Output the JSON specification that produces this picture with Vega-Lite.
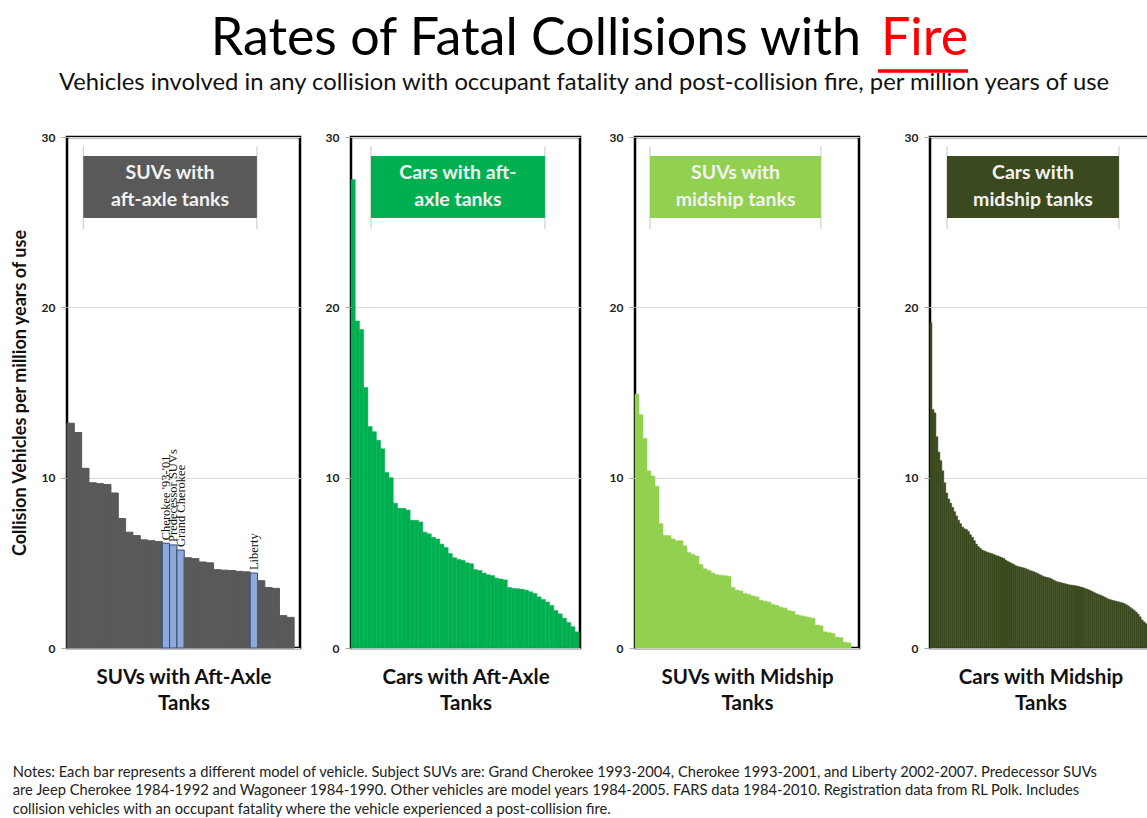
{
  "$schema": "https://vega.github.io/schema/vega-lite/v6.json",
  "padding": {"left": 9, "top": 0, "right": 0, "bottom": 0},
  "background": "white",
  "config": {
    "font": "Lato",
    "view": {"stroke": "#000", "strokeWidth": 2.5},
    "axisY": {"grid": true, "gridColor": "#d9d9d9", "gridWidth": 1.2, "domain": false, "tickColor": "#a6a6a6", "tickSize": 6, "labelFont": "Lato", "labelFontWeight": "bold", "labelFontSize": 12, "labelColor": "#222", "labelPadding": 6, "titleFont": "Lato", "titleFontSize": 18, "titleFontWeight": "bold", "titleColor": "#111", "titlePadding": 8},
    "axisX": {"labels": false, "ticks": false, "domain": false, "grid": false, "titleFont": "Lato", "titleFontSize": 20.5, "titleFontWeight": "bold", "titleColor": "#111", "titlePadding": 19, "titleLineHeight": 26, "minExtent": 0, "maxExtent": 0}
  },
  "datasets": {
    "suvAft": [
      {"rank": 1, "rate": 13.2, "kind": "other"}, {"rank": 2, "rate": 12.65, "kind": "other"}, {"rank": 3, "rate": 10.55, "kind": "other"}, {"rank": 4, "rate": 9.7, "kind": "other"}, {"rank": 5, "rate": 9.65, "kind": "other"}, {"rank": 6, "rate": 9.6, "kind": "other"}, {"rank": 7, "rate": 9.1, "kind": "other"}, {"rank": 8, "rate": 7.6, "kind": "other"}, {"rank": 9, "rate": 6.8, "kind": "other"}, {"rank": 10, "rate": 6.6, "kind": "other"}, {"rank": 11, "rate": 6.35, "kind": "other"}, {"rank": 12, "rate": 6.3, "kind": "other"}, {"rank": 13, "rate": 6.25, "kind": "other"},
      {"rank": 14, "rate": 6.15, "kind": "subject", "label": "Cherokee '93-'01"}, {"rank": 15, "rate": 6.05, "kind": "subject", "label": "Predecessor SUVs"}, {"rank": 16, "rate": 5.75, "kind": "subject", "label": "Grand Cherokee"},
      {"rank": 17, "rate": 5.3, "kind": "other"}, {"rank": 18, "rate": 5.25, "kind": "other"}, {"rank": 19, "rate": 5.05, "kind": "other"}, {"rank": 20, "rate": 5.0, "kind": "other"}, {"rank": 21, "rate": 4.6, "kind": "other"}, {"rank": 22, "rate": 4.57, "kind": "other"}, {"rank": 23, "rate": 4.55, "kind": "other"}, {"rank": 24, "rate": 4.5, "kind": "other"}, {"rank": 25, "rate": 4.47, "kind": "other"},
      {"rank": 26, "rate": 4.4, "kind": "subject", "label": "Liberty"},
      {"rank": 27, "rate": 3.95, "kind": "other"}, {"rank": 28, "rate": 3.55, "kind": "other"}, {"rank": 29, "rate": 3.5, "kind": "other"}, {"rank": 30, "rate": 1.9, "kind": "other"}, {"rank": 31, "rate": 1.8, "kind": "other"}
    ],
    "carAft": [
      {"rank": 1, "rate": 27.5}, {"rank": 2, "rate": 19.2}, {"rank": 3, "rate": 18.7}, {"rank": 4, "rate": 15.3}, {"rank": 5, "rate": 13.0}, {"rank": 6, "rate": 12.7}, {"rank": 7, "rate": 12.2}, {"rank": 8, "rate": 11.7}, {"rank": 9, "rate": 10.3}, {"rank": 10, "rate": 10.0},
      {"rank": 11, "rate": 8.5}, {"rank": 12, "rate": 8.2}, {"rank": 13, "rate": 8.2}, {"rank": 14, "rate": 8.1}, {"rank": 15, "rate": 7.5}, {"rank": 16, "rate": 7.5}, {"rank": 17, "rate": 7.4}, {"rank": 18, "rate": 6.8}, {"rank": 19, "rate": 6.7}, {"rank": 20, "rate": 6.5},
      {"rank": 21, "rate": 6.4}, {"rank": 22, "rate": 6.1}, {"rank": 23, "rate": 5.9}, {"rank": 24, "rate": 5.55}, {"rank": 25, "rate": 5.3}, {"rank": 26, "rate": 5.2}, {"rank": 27, "rate": 5.15}, {"rank": 28, "rate": 5.0}, {"rank": 29, "rate": 4.95}, {"rank": 30, "rate": 4.6},
      {"rank": 31, "rate": 4.55}, {"rank": 32, "rate": 4.4}, {"rank": 33, "rate": 4.3}, {"rank": 34, "rate": 4.25}, {"rank": 35, "rate": 4.1}, {"rank": 36, "rate": 4.05}, {"rank": 37, "rate": 4.0}, {"rank": 38, "rate": 3.55}, {"rank": 39, "rate": 3.5}, {"rank": 40, "rate": 3.48},
      {"rank": 41, "rate": 3.45}, {"rank": 42, "rate": 3.4}, {"rank": 43, "rate": 3.3}, {"rank": 44, "rate": 3.2}, {"rank": 45, "rate": 3.0}, {"rank": 46, "rate": 2.85}, {"rank": 47, "rate": 2.7}, {"rank": 48, "rate": 2.5}, {"rank": 49, "rate": 2.2}, {"rank": 50, "rate": 2.0},
      {"rank": 51, "rate": 1.75}, {"rank": 52, "rate": 1.5}, {"rank": 53, "rate": 1.25}, {"rank": 54, "rate": 0.95}
    ],
    "suvMid": [
      {"rank": 1, "rate": 14.9}, {"rank": 2, "rate": 13.7}, {"rank": 3, "rate": 12.3}, {"rank": 4, "rate": 10.4}, {"rank": 5, "rate": 10.1}, {"rank": 6, "rate": 9.5}, {"rank": 7, "rate": 7.3}, {"rank": 8, "rate": 6.6}, {"rank": 9, "rate": 6.6}, {"rank": 10, "rate": 6.4},
      {"rank": 11, "rate": 6.3}, {"rank": 12, "rate": 6.3}, {"rank": 13, "rate": 6.0}, {"rank": 14, "rate": 5.6}, {"rank": 15, "rate": 5.5}, {"rank": 16, "rate": 5.4}, {"rank": 17, "rate": 4.9}, {"rank": 18, "rate": 4.65}, {"rank": 19, "rate": 4.55}, {"rank": 20, "rate": 4.4},
      {"rank": 21, "rate": 4.3}, {"rank": 22, "rate": 4.27}, {"rank": 23, "rate": 4.25}, {"rank": 24, "rate": 4.2}, {"rank": 25, "rate": 3.56}, {"rank": 26, "rate": 3.4}, {"rank": 27, "rate": 3.35}, {"rank": 28, "rate": 3.2}, {"rank": 29, "rate": 3.15}, {"rank": 30, "rate": 3.06},
      {"rank": 31, "rate": 3.0}, {"rank": 32, "rate": 2.8}, {"rank": 33, "rate": 2.75}, {"rank": 34, "rate": 2.7}, {"rank": 35, "rate": 2.56}, {"rank": 36, "rate": 2.5}, {"rank": 37, "rate": 2.4}, {"rank": 38, "rate": 2.35}, {"rank": 39, "rate": 2.2}, {"rank": 40, "rate": 2.15},
      {"rank": 41, "rate": 1.95}, {"rank": 42, "rate": 1.9}, {"rank": 43, "rate": 1.85}, {"rank": 44, "rate": 1.8}, {"rank": 45, "rate": 1.75}, {"rank": 46, "rate": 1.35}, {"rank": 47, "rate": 1.3}, {"rank": 48, "rate": 0.95}, {"rank": 49, "rate": 0.9}, {"rank": 50, "rate": 0.85},
      {"rank": 51, "rate": 0.64}, {"rank": 52, "rate": 0.6}, {"rank": 53, "rate": 0.34}, {"rank": 54, "rate": 0.3}
    ],
    "carMid": [
      {"rank": 1, "rate": 19.1}, {"rank": 2, "rate": 14.0}, {"rank": 3, "rate": 13.8}, {"rank": 4, "rate": 12.4}, {"rank": 5, "rate": 11.5}, {"rank": 6, "rate": 11.0}, {"rank": 7, "rate": 10.4}, {"rank": 8, "rate": 9.7}, {"rank": 9, "rate": 9.1}, {"rank": 10, "rate": 8.75},
      {"rank": 11, "rate": 8.5}, {"rank": 12, "rate": 8.25}, {"rank": 13, "rate": 8.0}, {"rank": 14, "rate": 7.75}, {"rank": 15, "rate": 7.5}, {"rank": 16, "rate": 7.3}, {"rank": 17, "rate": 7.1}, {"rank": 18, "rate": 7.0}, {"rank": 19, "rate": 6.95}, {"rank": 20, "rate": 6.85},
      {"rank": 21, "rate": 6.65}, {"rank": 22, "rate": 6.5}, {"rank": 23, "rate": 6.3}, {"rank": 24, "rate": 6.1}, {"rank": 25, "rate": 5.95}, {"rank": 26, "rate": 5.85}, {"rank": 27, "rate": 5.75}, {"rank": 28, "rate": 5.7}, {"rank": 29, "rate": 5.65}, {"rank": 30, "rate": 5.6},
      {"rank": 31, "rate": 5.57}, {"rank": 32, "rate": 5.53}, {"rank": 33, "rate": 5.48}, {"rank": 34, "rate": 5.43}, {"rank": 35, "rate": 5.4}, {"rank": 36, "rate": 5.35}, {"rank": 37, "rate": 5.3}, {"rank": 38, "rate": 5.25}, {"rank": 39, "rate": 5.15}, {"rank": 40, "rate": 5.08},
      {"rank": 41, "rate": 5.02}, {"rank": 42, "rate": 4.96}, {"rank": 43, "rate": 4.9}, {"rank": 44, "rate": 4.83}, {"rank": 45, "rate": 4.79}, {"rank": 46, "rate": 4.76}, {"rank": 47, "rate": 4.73}, {"rank": 48, "rate": 4.7}, {"rank": 49, "rate": 4.66}, {"rank": 50, "rate": 4.61},
      {"rank": 51, "rate": 4.56}, {"rank": 52, "rate": 4.52}, {"rank": 53, "rate": 4.48}, {"rank": 54, "rate": 4.43}, {"rank": 55, "rate": 4.38}, {"rank": 56, "rate": 4.32}, {"rank": 57, "rate": 4.26}, {"rank": 58, "rate": 4.2}, {"rank": 59, "rate": 4.17}, {"rank": 60, "rate": 4.14},
      {"rank": 61, "rate": 4.11}, {"rank": 62, "rate": 4.06}, {"rank": 63, "rate": 4.0}, {"rank": 64, "rate": 3.94}, {"rank": 65, "rate": 3.89}, {"rank": 66, "rate": 3.86}, {"rank": 67, "rate": 3.83}, {"rank": 68, "rate": 3.8}, {"rank": 69, "rate": 3.77}, {"rank": 70, "rate": 3.74},
      {"rank": 71, "rate": 3.71}, {"rank": 72, "rate": 3.69}, {"rank": 73, "rate": 3.68}, {"rank": 74, "rate": 3.66}, {"rank": 75, "rate": 3.64}, {"rank": 76, "rate": 3.61}, {"rank": 77, "rate": 3.58}, {"rank": 78, "rate": 3.55}, {"rank": 79, "rate": 3.5}, {"rank": 80, "rate": 3.46},
      {"rank": 81, "rate": 3.41}, {"rank": 82, "rate": 3.36}, {"rank": 83, "rate": 3.3}, {"rank": 84, "rate": 3.24}, {"rank": 85, "rate": 3.19}, {"rank": 86, "rate": 3.14}, {"rank": 87, "rate": 3.1}, {"rank": 88, "rate": 3.05}, {"rank": 89, "rate": 2.99}, {"rank": 90, "rate": 2.93},
      {"rank": 91, "rate": 2.87}, {"rank": 92, "rate": 2.83}, {"rank": 93, "rate": 2.8}, {"rank": 94, "rate": 2.77}, {"rank": 95, "rate": 2.74}, {"rank": 96, "rate": 2.71}, {"rank": 97, "rate": 2.68}, {"rank": 98, "rate": 2.65}, {"rank": 99, "rate": 2.6}, {"rank": 100, "rate": 2.54},
      {"rank": 101, "rate": 2.47}, {"rank": 102, "rate": 2.38}, {"rank": 103, "rate": 2.3}, {"rank": 104, "rate": 2.21}, {"rank": 105, "rate": 2.11}, {"rank": 106, "rate": 1.99}, {"rank": 107, "rate": 1.83}, {"rank": 108, "rate": 1.65}, {"rank": 109, "rate": 1.53}, {"rank": 110, "rate": 1.43},
      {"rank": 111, "rate": 1.37}, {"rank": 112, "rate": 1.3}
    ]
  },
  "title": {
    "text": [
      "Notes: Each bar represents a different model of vehicle. Subject SUVs are: Grand Cherokee 1993-2004, Cherokee 1993-2001, and Liberty 2002-2007. Predecessor SUVs",
      "are  Jeep Cherokee 1984-1992 and Wagoneer 1984-1990.  Other vehicles are model years 1984-2005.  FARS data 1984-2010. Registration data from RL Polk. Includes",
      "collision vehicles with an occupant fatality where the vehicle experienced a post-collision fire."
    ],
    "orient": "bottom", "anchor": "start", "frame": "bounds", "dx": 3, "font": "Lato", "fontSize": 14.7, "fontWeight": "normal", "color": "#222", "lineHeight": 18.5, "offset": 50
  },
  "spacing": 2,
  "vconcat": [
    {
      "width": 1083, "height": 127,
      "view": {"stroke": null},
      "layer": [
        {"data": {"values": [{"t": "Rates of Fatal Collisions with"}]},
         "mark": {"type": "text", "align": "right", "baseline": "alphabetic", "fontSize": 52, "color": "#000", "font": "Lato"},
         "encoding": {
           "x": {"datum": 0.7331, "type": "quantitative", "scale": {"domain": [0, 1]}, "axis": null},
           "y": {"datum": 0.433, "type": "quantitative", "scale": {"domain": [0, 1], "reverse": true}, "axis": null},
           "text": {"field": "t"}}},
        {"data": {"values": [{"t": "Fire"}]},
         "mark": {"type": "text", "align": "left", "baseline": "alphabetic", "fontSize": 52, "color": "#ff0000", "font": "Lato"},
         "encoding": {
           "x": {"datum": 0.7516, "type": "quantitative"},
           "y": {"datum": 0.433, "type": "quantitative"},
           "text": {"field": "t"}}},
        {"data": {"values": [{"t": "underline"}]},
         "mark": {"type": "rule", "color": "#ff0000", "strokeWidth": 3.5},
         "encoding": {
           "x": {"datum": 0.7488, "type": "quantitative"},
           "x2": {"datum": 0.8319},
           "y": {"datum": 0.559, "type": "quantitative"}}},
        {"data": {"values": [{"t": "Vehicles involved in any collision with occupant fatality and post-collision fire, per million years of use"}]},
         "mark": {"type": "text", "align": "center", "baseline": "alphabetic", "fontSize": 23.8, "color": "#111", "font": "Lato"},
         "encoding": {
           "x": {"datum": 0.4774, "type": "quantitative"},
           "y": {"datum": 0.709, "type": "quantitative"},
           "text": {"field": "t"}}}
      ]
    },
    {
      "spacing": 10,
      "hconcat": [
        {
          "width": 233, "height": 511,
          "layer": [
            {"data": {"name": "suvAft"},
             "layer": [
               {"mark": {"type": "bar", "strokeWidth": 1},
                "encoding": {
                  "x": {"field": "rank", "type": "ordinal", "scale": {"paddingInner": 0, "paddingOuter": 0.4, "align": 0}, "axis": {"title": ["SUVs with Aft-Axle", "Tanks"]}},
                  "y": {"field": "rate", "type": "quantitative", "scale": {"domain": [0, 30]}, "axis": {"values": [0, 10, 20, 30], "title": "Collision Vehicles per million years of use", "minExtent": 30, "maxExtent": 30}},
                  "fill": {"field": "kind", "type": "nominal", "scale": {"domain": ["other", "subject"], "range": ["#595959", "#8eaadb"]}, "legend": null},
                  "stroke": {"field": "kind", "type": "nominal", "scale": {"domain": ["other", "subject"], "range": ["#595959", "#2f4b7c"]}, "legend": null}}},
               {"transform": [{"filter": "isValid(datum.label)"}],
                "mark": {"type": "text", "angle": 270, "align": "left", "baseline": "middle", "dx": 3, "font": "Liberation Serif", "fontSize": 12.5, "color": "#111"},
                "encoding": {
                  "x": {"field": "rank", "type": "ordinal"},
                  "y": {"field": "rate", "type": "quantitative"},
                  "text": {"field": "label"}}}
             ]},
            {"data": {"values": [{"t": "SUVs with\naft-axle tanks"}]},
             "layer": [
               {"mark": {"type": "rule", "color": "#c8c8c8", "strokeWidth": 1},
                "encoding": {"x": {"datum": 0.07, "type": "quantitative", "scale": {"domain": [0, 1]}, "axis": null}, "y": {"datum": 29.45, "type": "quantitative"}, "y2": {"datum": 24.6}}},
               {"mark": {"type": "rule", "color": "#c8c8c8", "strokeWidth": 1},
                "encoding": {"x": {"datum": 0.815, "type": "quantitative"}, "y": {"datum": 29.45, "type": "quantitative"}, "y2": {"datum": 24.6}}},
               {"mark": {"type": "rect", "color": "#595959"},
                "encoding": {
                  "x": {"datum": 0.07, "type": "quantitative"},
                  "x2": {"datum": 0.815},
                  "y": {"datum": 28.88, "type": "quantitative"},
                  "y2": {"datum": 25.24}}},
               {"mark": {"type": "text", "lineBreak": "\n", "lineHeight": 27, "fontSize": 19.5, "fontWeight": "bold", "color": "#f2f2f2", "align": "center", "baseline": "middle", "font": "Lato"},
                "encoding": {
                  "x": {"datum": 0.442, "type": "quantitative"},
                  "y": {"datum": 27.89, "type": "quantitative"},
                  "text": {"field": "t"}}}
             ]}
          ],
          "resolve": {"scale": {"x": "independent"}}
        },
        {
          "width": 229, "height": 511,
          "layer": [
            {"data": {"name": "carAft"},
             "mark": {"type": "bar", "color": "#00b050", "stroke": "#00b050", "strokeWidth": 0.5},
             "encoding": {
               "x": {"field": "rank", "type": "ordinal", "scale": {"paddingInner": 0, "paddingOuter": 0.1, "align": 0}, "axis": {"title": ["Cars with Aft-Axle", "Tanks"]}},
               "y": {"field": "rate", "type": "quantitative", "scale": {"domain": [0, 30]}, "axis": {"values": [0, 10, 20, 30], "title": null, "minExtent": 37, "maxExtent": 37}}}},
            {"data": {"values": [{"t": "Cars with aft-\naxle tanks"}]},
             "layer": [
               {"mark": {"type": "rule", "color": "#c8c8c8", "strokeWidth": 1},
                "encoding": {"x": {"datum": 0.087, "type": "quantitative", "scale": {"domain": [0, 1]}, "axis": null}, "y": {"datum": 29.45, "type": "quantitative"}, "y2": {"datum": 24.6}}},
               {"mark": {"type": "rule", "color": "#c8c8c8", "strokeWidth": 1},
                "encoding": {"x": {"datum": 0.847, "type": "quantitative"}, "y": {"datum": 29.45, "type": "quantitative"}, "y2": {"datum": 24.6}}},
               {"mark": {"type": "rect", "color": "#00b050"},
                "encoding": {
                  "x": {"datum": 0.087, "type": "quantitative"},
                  "x2": {"datum": 0.847},
                  "y": {"datum": 28.88, "type": "quantitative"},
                  "y2": {"datum": 25.24}}},
               {"mark": {"type": "text", "lineBreak": "\n", "lineHeight": 27, "fontSize": 19.5, "fontWeight": "bold", "color": "#f2f2f2", "align": "center", "baseline": "middle", "font": "Lato"},
                "encoding": {
                  "x": {"datum": 0.467, "type": "quantitative"},
                  "y": {"datum": 27.89, "type": "quantitative"},
                  "text": {"field": "t"}}}
             ]}
          ],
          "resolve": {"scale": {"x": "independent"}}
        },
        {
          "width": 224, "height": 511,
          "layer": [
            {"data": {"name": "suvMid"},
             "mark": {"type": "bar", "color": "#92d050", "stroke": "#92d050", "strokeWidth": 0.5},
             "encoding": {
               "x": {"field": "rank", "type": "ordinal", "scale": {"paddingInner": 0, "paddingOuter": 6, "align": 0}, "axis": {"title": ["SUVs with Midship", "Tanks"]}},
               "y": {"field": "rate", "type": "quantitative", "scale": {"domain": [0, 30]}, "axis": {"values": [0, 10, 20, 30], "title": null, "minExtent": 41, "maxExtent": 41}}}},
            {"data": {"values": [{"t": "SUVs with\nmidship tanks"}]},
             "layer": [
               {"mark": {"type": "rule", "color": "#c8c8c8", "strokeWidth": 1},
                "encoding": {"x": {"datum": 0.067, "type": "quantitative", "scale": {"domain": [0, 1]}, "axis": null}, "y": {"datum": 29.45, "type": "quantitative"}, "y2": {"datum": 24.6}}},
               {"mark": {"type": "rule", "color": "#c8c8c8", "strokeWidth": 1},
                "encoding": {"x": {"datum": 0.83, "type": "quantitative"}, "y": {"datum": 29.45, "type": "quantitative"}, "y2": {"datum": 24.6}}},
               {"mark": {"type": "rect", "color": "#92d050"},
                "encoding": {
                  "x": {"datum": 0.067, "type": "quantitative"},
                  "x2": {"datum": 0.83},
                  "y": {"datum": 28.88, "type": "quantitative"},
                  "y2": {"datum": 25.24}}},
               {"mark": {"type": "text", "lineBreak": "\n", "lineHeight": 27, "fontSize": 19.5, "fontWeight": "bold", "color": "#f2f2f2", "align": "center", "baseline": "middle", "font": "Lato"},
                "encoding": {
                  "x": {"datum": 0.449, "type": "quantitative"},
                  "y": {"datum": 27.89, "type": "quantitative"},
                  "text": {"field": "t"}}}
             ]}
          ],
          "resolve": {"scale": {"x": "independent"}}
        },
        {
          "width": 221, "height": 511,
          "layer": [
            {"data": {"name": "carMid"},
             "mark": {"type": "bar", "color": "#3b4a1e", "stroke": "#3b4a1e", "strokeWidth": 0.5},
             "encoding": {
               "x": {"field": "rank", "type": "ordinal", "scale": {"paddingInner": 0, "paddingOuter": 0, "align": 0}, "axis": {"title": ["Cars with Midship", "Tanks"]}},
               "y": {"field": "rate", "type": "quantitative", "scale": {"domain": [0, 30]}, "axis": {"values": [0, 10, 20, 30], "title": null, "minExtent": 57, "maxExtent": 57}}}},
            {"data": {"values": [{"t": "Cars with\nmidship tanks"}]},
             "layer": [
               {"mark": {"type": "rule", "color": "#c8c8c8", "strokeWidth": 1},
                "encoding": {"x": {"datum": 0.077, "type": "quantitative", "scale": {"domain": [0, 1]}, "axis": null}, "y": {"datum": 29.45, "type": "quantitative"}, "y2": {"datum": 24.6}}},
               {"mark": {"type": "rule", "color": "#c8c8c8", "strokeWidth": 1},
                "encoding": {"x": {"datum": 0.855, "type": "quantitative"}, "y": {"datum": 29.45, "type": "quantitative"}, "y2": {"datum": 24.6}}},
               {"mark": {"type": "rect", "color": "#3b4a1e"},
                "encoding": {
                  "x": {"datum": 0.077, "type": "quantitative"},
                  "x2": {"datum": 0.855},
                  "y": {"datum": 28.88, "type": "quantitative"},
                  "y2": {"datum": 25.24}}},
               {"mark": {"type": "text", "lineBreak": "\n", "lineHeight": 27, "fontSize": 19.5, "fontWeight": "bold", "color": "#f2f2f2", "align": "center", "baseline": "middle", "font": "Lato"},
                "encoding": {
                  "x": {"datum": 0.466, "type": "quantitative"},
                  "y": {"datum": 27.89, "type": "quantitative"},
                  "text": {"field": "t"}}}
             ]}
          ],
          "resolve": {"scale": {"x": "independent"}}
        }
      ]
    }
  ]
}
